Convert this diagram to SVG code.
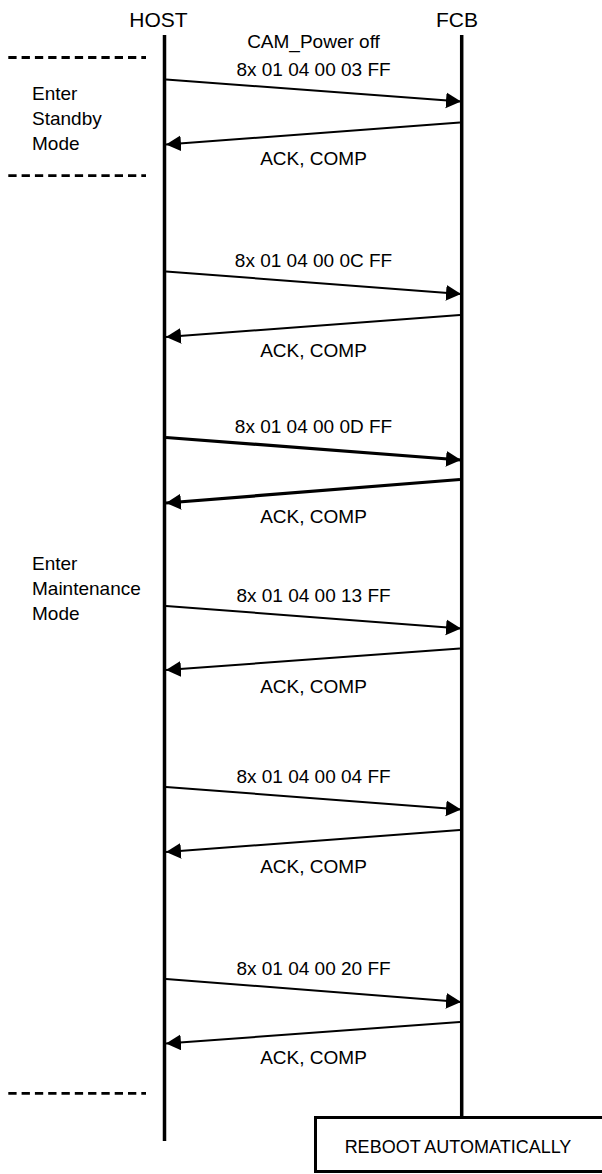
<svg xmlns="http://www.w3.org/2000/svg" width="602" height="1174" viewBox="0 0 602 1174">
<style>
text{font-family:"Liberation Sans",Arial,sans-serif;fill:#000}
.hdr{font-size:21px;text-anchor:middle}
.lbl{font-size:19px;text-anchor:middle}
.mode{font-size:19px}
.life{stroke:#000;stroke-width:3.5;fill:none}
.dash{stroke:#000;stroke-width:2.8;stroke-dasharray:8.3 5;fill:none}
.msg{stroke:#000;stroke-width:2;fill:none;marker-end:url(#ah)}
.thick{stroke-width:3.2}
</style>
<defs>
<marker id="ah" markerUnits="userSpaceOnUse" markerWidth="16" markerHeight="17" refX="15" refY="8" orient="auto" viewBox="0 0 16 17">
<path d="M0,0 L15,8 L0,16 z" fill="#000"/>
</marker>
</defs>
<rect width="602" height="1174" fill="#fff"/>

<g id="host">
<text class="hdr" x="158.5" y="26.5">HOST</text>
<line class="life" x1="164.5" y1="35" x2="164.5" y2="1141"/>
</g>
<g id="fcb">
<text class="hdr" x="457" y="26.5">FCB</text>
<line class="life" x1="461.7" y1="35" x2="461.7" y2="1117"/>
</g>

<g id="standby-mode">
<line class="dash" x1="8.3" y1="57.5" x2="146" y2="57.5"/>
<text class="mode" x="32" y="100">Enter</text>
<text class="mode" x="32" y="124.5">Standby</text>
<text class="mode" x="32" y="150">Mode</text>
<line class="dash" x1="8.3" y1="175.7" x2="146" y2="175.7"/>
</g>

<g id="maintenance-mode">
<text class="mode" x="32" y="569.5">Enter</text>
<text class="mode" x="32" y="594.5">Maintenance</text>
<text class="mode" x="32" y="620">Mode</text>
<line class="dash" x1="8.3" y1="1093.3" x2="146" y2="1093.3"/>
</g>

<g id="reboot">
<rect x="315.5" y="1117.5" width="300" height="54" fill="#fff" stroke="#000" stroke-width="3"/>
<text x="458" y="1153" font-size="18" text-anchor="middle">REBOOT AUTOMATICALLY</text>
</g>

<g id="connectors">
<text class="lbl" x="313.5" y="48">CAM_Power off</text>
<text class="lbl" x="313.5" y="76">8x 01 04 00 03 FF</text>
<line class="msg" x1="166" y1="79.5" x2="461" y2="101.5"/>
<line class="msg" x1="460" y1="122.5" x2="166" y2="144.5"/>
<text class="lbl" x="313.5" y="165">ACK, COMP</text>

<text class="lbl" x="313.5" y="267">8x 01 04 00 0C FF</text>
<line class="msg" x1="166" y1="271.5" x2="461" y2="294"/>
<line class="msg" x1="460" y1="315" x2="166" y2="337"/>
<text class="lbl" x="313.5" y="356.5">ACK, COMP</text>

<text class="lbl" x="313.5" y="433">8x 01 04 00 0D FF</text>
<line class="msg thick" x1="166" y1="437.5" x2="461" y2="460"/>
<line class="msg thick" x1="460" y1="479.5" x2="166" y2="503"/>
<text class="lbl" x="313.5" y="523">ACK, COMP</text>

<text class="lbl" x="313.5" y="601.5">8x 01 04 00 13 FF</text>
<line class="msg" x1="166" y1="606" x2="461" y2="628.5"/>
<line class="msg" x1="460" y1="648.5" x2="166" y2="670"/>
<text class="lbl" x="313.5" y="692.5">ACK, COMP</text>

<text class="lbl" x="313.5" y="782.5">8x 01 04 00 04 FF</text>
<line class="msg" x1="166" y1="787" x2="461" y2="809.5"/>
<line class="msg" x1="460" y1="830" x2="166" y2="852"/>
<text class="lbl" x="313.5" y="873">ACK, COMP</text>

<text class="lbl" x="313.5" y="975">8x 01 04 00 20 FF</text>
<line class="msg" x1="166" y1="979" x2="461" y2="1002"/>
<line class="msg" x1="460" y1="1022" x2="166" y2="1043.5"/>
<text class="lbl" x="313.5" y="1064">ACK, COMP</text>
</g>
</svg>
